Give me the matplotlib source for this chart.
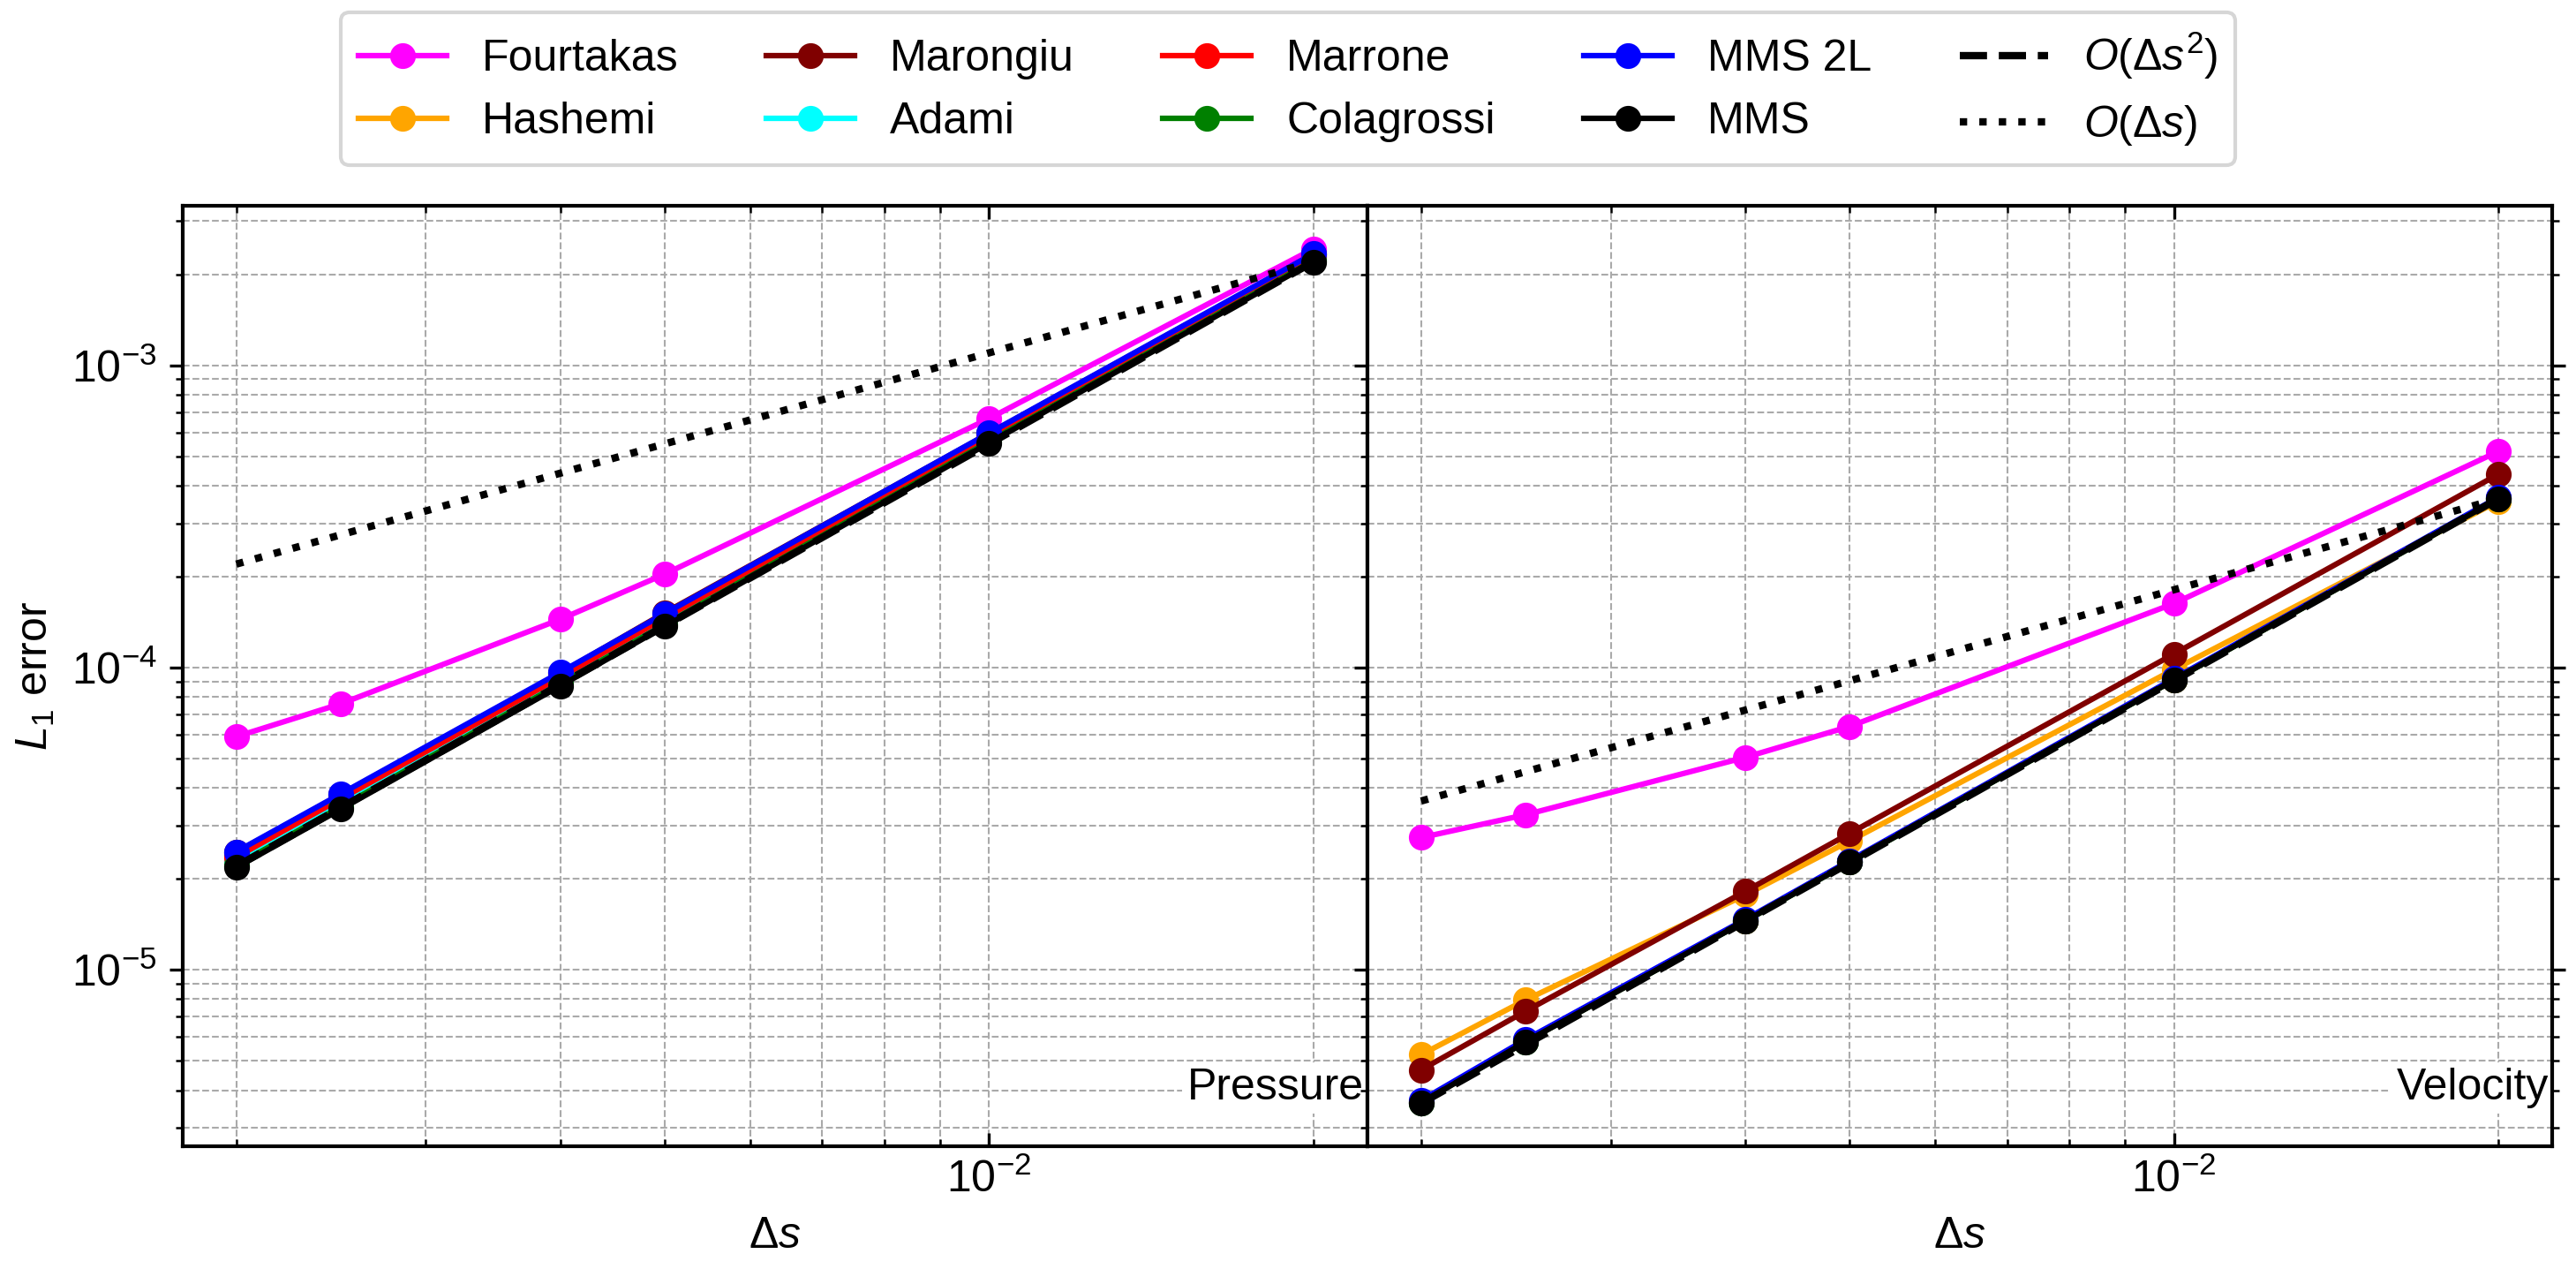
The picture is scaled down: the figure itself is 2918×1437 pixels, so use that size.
# Convergence plot: L1 error of pressure and velocity vs particle spacing
import numpy as np
import matplotlib
matplotlib.use('Agg')
import matplotlib.pyplot as plt
from matplotlib.ticker import NullFormatter

plt.rcParams['font.family'] = ['Liberation Sans', 'DejaVu Sans']
plt.rcParams['font.size'] = 12
plt.rcParams['mathtext.fontset'] = 'custom'
plt.rcParams['mathtext.rm'] = 'Liberation Sans'
plt.rcParams['mathtext.it'] = 'Liberation Sans:italic'
plt.rcParams['mathtext.bf'] = 'Liberation Sans:bold'
plt.rcParams['axes.linewidth'] = 1.0

# particle spacing
ds = [0.002, 0.0025, 0.004, 0.005, 0.01, 0.02]

# pressure L1 errors
fourtakas_p = [5.91e-5, 7.59e-5, 1.446e-4, 2.04e-4, 6.67e-4, 2.43e-3]
hashemi_p = [2.40e-5, 3.75e-5, 9.45e-5, 1.48e-4, 5.88e-4, 2.31e-3]
marongiu_p = [2.45e-5, 3.80e-5, 9.60e-5, 1.52e-4, 5.95e-4, 2.33e-3]
adami_p = [2.30e-5, 3.60e-5, 9.10e-5, 1.43e-4, 5.70e-4, 2.25e-3]
marrone_p = [2.36e-5, 3.68e-5, 9.30e-5, 1.46e-4, 5.80e-4, 2.28e-3]
colagrossi_p = [2.22e-5, 3.46e-5, 8.85e-5, 1.39e-4, 5.60e-4, 2.22e-3]
mms2l_p = [2.46e-5, 3.82e-5, 9.66e-5, 1.51e-4, 5.97e-4, 2.34e-3]
mms_p = [2.18e-5, 3.40e-5, 8.71e-5, 1.37e-4, 5.54e-4, 2.20e-3]

# velocity L1 errors
fourtakas_v = [2.74e-5, 3.26e-5, 5.05e-5, 6.39e-5, 1.63e-4, 5.19e-4]
hashemi_v = [5.24e-6, 7.95e-6, 1.77e-5, 2.67e-5, 9.86e-5, 3.55e-4]
marongiu_v = [4.67e-6, 7.30e-6, 1.82e-5, 2.83e-5, 1.11e-4, 4.36e-4]
adami_v = [3.66e-6, 5.82e-6, 1.46e-5, 2.28e-5, 9.15e-5, 3.64e-4]
marrone_v = [3.65e-6, 5.80e-6, 1.455e-5, 2.28e-5, 9.12e-5, 3.63e-4]
colagrossi_v = [3.64e-6, 5.79e-6, 1.45e-5, 2.27e-5, 9.10e-5, 3.62e-4]
mms2l_v = [3.70e-6, 5.88e-6, 1.47e-5, 2.30e-5, 9.20e-5, 3.66e-4]
mms_v = [3.63e-6, 5.78e-6, 1.45e-5, 2.27e-5, 9.10e-5, 3.62e-4]

labels = ['Fourtakas', 'Hashemi', 'Marongiu', 'Adami', 'Marrone',
          'Colagrossi', 'MMS 2L', 'MMS']
colors = ['magenta', 'orange', 'maroon', 'cyan', 'red', 'green', 'blue', 'black']
pressure = [fourtakas_p, hashemi_p, marongiu_p, adami_p, marrone_p,
            colagrossi_p, mms2l_p, mms_p]
velocity = [fourtakas_v, hashemi_v, marongiu_v, adami_v, marrone_v,
            colagrossi_v, mms2l_v, mms_v]

fig = plt.figure(figsize=(2918 / 300, 1437 / 300), dpi=300)
ax1 = fig.add_subplot(1, 2, 1)
ax2 = fig.add_subplot(1, 2, 2, sharey=ax1)
fig.subplots_adjust(left=0.0708, right=0.9907, bottom=0.0969, top=0.8376, wspace=0)

x = np.array(ds)
for ax, data, name in [(ax1, pressure, 'Pressure'), (ax2, velocity, 'Velocity')]:
    for vals, lab, col in zip(data, labels, colors):
        ax.plot(x, vals, '-o', color=col, label=lab, lw=1.5, ms=6)
    ref = data[-1][-1]
    ax.plot(x, ref * (x / x[-1]) ** 2, 'k--', lw=2, label=r'$O(\Delta s^2)$')
    ax.plot(x, ref * (x / x[-1]), 'k:', lw=2, label=r'$O(\Delta s)$')
    ax.set_xscale('log')
    ax.set_yscale('log')
    ax.grid(True, which='both', ls='--', lw=0.5, color='#aaaaaa')
    ax.set_xlabel(r'$\Delta s$')
    ax.xaxis.set_minor_formatter(NullFormatter())
    ax.tick_params(axis='x', which='both', direction='in', top=True, bottom=True)
    # label sits under the spines so the frame stays visible
    ax.text(0.997, 0.05, name, transform=ax.transAxes, ha='right', va='baseline',
            fontsize=12, zorder=2.4,
            bbox=dict(facecolor='white', edgecolor='none', pad=1.5))

ax1.set_ylabel(r'$L_1$ error')
ax1.tick_params(axis='y', which='both', direction='out', left=True, right=False)
ax2.tick_params(axis='y', which='both', direction='out', left=True, right=True,
                labelleft=False)

handles, labs = ax1.get_legend_handles_labels()
fig.legend(handles, labs, ncol=5, loc='upper center', bbox_to_anchor=(0.5, 0.9903),
           borderaxespad=0, fontsize=12)

fig.savefig('out.png', dpi=300)
